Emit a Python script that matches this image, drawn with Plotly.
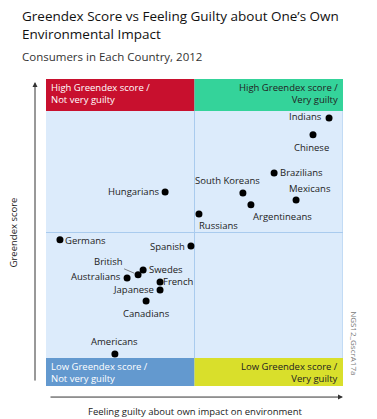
import plotly.graph_objects as go

countries = ["Indians", "Chinese", "Brazilians", "South Koreans", "Mexicans",
             "Argentineans", "Russians", "Hungarians", "Germans", "Spanish",
             "British", "Swedes", "Australians", "French", "Japanese",
             "Canadians", "Americans"]
guilt = [95.3, 89.9, 76.8, 66.3, 84.2, 69.0, 51.5, 40.1, 4.7, 48.8,
         31.0, 32.7, 27.3, 38.4, 38.4, 33.7, 23.2]
greendex = [87.3, 81.8, 69.4, 62.9, 60.6, 59.0, 56.0, 63.2, 47.6, 45.6,
            36.2, 37.8, 35.2, 33.9, 31.3, 27.7, 10.4]

# label placement: (xanchor, yanchor, xshift, yshift)
label_pos = {
    "Indians": ("right", "middle", -5, 1),
    "Chinese": ("center", "top", -2, -4),
    "Brazilians": ("left", "middle", 4, 0),
    "South Koreans": ("center", "bottom", -15, 4),
    "Mexicans": ("center", "bottom", 14, 3),
    "Argentineans": ("left", "top", 0, -3),
    "Russians": ("left", "top", -2, -3),
    "Hungarians": ("right", "middle", -4, 0),
    "Germans": ("left", "middle", 3, -1),
    "Spanish": ("right", "middle", -4, 0),
    "Swedes": ("left", "middle", 4, 0),
    "Australians": ("right", "middle", -4, 1),
    "French": ("left", "middle", 1, 0),
    "Japanese": ("right", "middle", -4, 0),
    "Canadians": ("center", "top", 0, -4),
    "Americans": ("center", "bottom", 0, 4),
}

bg = "#dcebfb"
grid = "#a9cbee"
font_fam = "Open Sans"
lbl_size = 9.5

fig = go.Figure()
fig.add_trace(go.Scatter(x=guilt, y=greendex, mode="markers",
                         marker=dict(color="black", size=7),
                         hoverinfo="text", text=countries, showlegend=False))

shapes = [
    dict(type="rect", xref="x", yref="y", x0=0, x1=50, y0=89.6, y1=100,
         fillcolor="#c8102e", line=dict(width=0), layer="below"),
    dict(type="rect", xref="x", yref="y", x0=50, x1=100, y0=89.6, y1=100,
         fillcolor="#34d39a", line=dict(width=0), layer="below"),
    dict(type="rect", xref="x", yref="y", x0=0, x1=50, y0=0, y1=9.1,
         fillcolor="#6399cf", line=dict(width=0), layer="below"),
    dict(type="rect", xref="x", yref="y", x0=50, x1=100, y0=0, y1=9.1,
         fillcolor="#d9df2b", line=dict(width=0), layer="below"),
    dict(type="line", xref="x", yref="y", x0=50, x1=50, y0=9.1, y1=89.6,
         line=dict(color=grid, width=1), layer="below"),
    dict(type="line", xref="x", yref="y", x0=0, x1=100, y0=50, y1=50,
         line=dict(color=grid, width=1), layer="below"),
    dict(type="line", xref="x", yref="y", x0=100, x1=100, y0=9.1, y1=89.6,
         line=dict(color=grid, width=1), layer="below"),
]

ann = []
for c, xv, yv in zip(countries, guilt, greendex):
    if c in label_pos:
        xa, ya, xs, ys = label_pos[c]
        ann.append(dict(x=xv, y=yv, xref="x", yref="y", text=c, showarrow=False,
                        xanchor=xa, yanchor=ya, xshift=xs, yshift=ys,
                        font=dict(family=font_fam, size=lbl_size, color="#222")))
# British with leader line
bi = countries.index("British")
ann.append(dict(x=guilt[bi], y=greendex[bi], xref="x", yref="y", text="British",
                showarrow=True, arrowhead=0, arrowwidth=0.7, arrowcolor="#555",
                ax=-30, ay=-13, standoff=4,
                font=dict(family=font_fam, size=lbl_size, color="#222")))

# quadrant labels
qfont_w = dict(family=font_fam, size=9.5, color="white")
qfont_d = dict(family=font_fam, size=9.5, color="#222")
ann += [
    dict(x=0, y=100, xref="x", yref="y", text="High Greendex score /<br>Not very guilty",
         showarrow=False, xanchor="left", yanchor="top", align="left", xshift=3, yshift=0,
         font=qfont_w),
    dict(x=100, y=100, xref="x", yref="y", text="High Greendex score /<br>Very guilty",
         showarrow=False, xanchor="right", yanchor="top", align="right", xshift=-3,
         font=qfont_d),
    dict(x=0, y=9.1, xref="x", yref="y", text="Low Greendex score /<br>Not very guilty",
         showarrow=False, xanchor="left", yanchor="top", align="left", xshift=3,
         font=qfont_w),
    dict(x=100, y=9.1, xref="x", yref="y", text="Low Greendex score /<br>Very guilty",
         showarrow=False, xanchor="right", yanchor="top", align="right", xshift=-3,
         font=qfont_d),
]

# titles
ann += [
    dict(x=-0.0875, y=1.24, xref="paper", yref="paper",
         text="Greendex Score vs Feeling Guilty about One\u2019s Own<br>Environmental Impact",
         showarrow=False, xanchor="left", yanchor="top", align="left",
         font=dict(family=font_fam, size=13.5, color="#111")),
    dict(x=-0.0875, y=1.105, xref="paper", yref="paper",
         text="Consumers in Each Country, 2012",
         showarrow=False, xanchor="left", yanchor="top", align="left",
         font=dict(family=font_fam, size=11.5, color="#333")),
    dict(x=0.5, y=-0.055, xref="paper", yref="paper",
         text="Feeling guilty about own impact on environment",
         showarrow=False, xanchor="center", yanchor="top",
         font=dict(family=font_fam, size=9.5, color="#222")),
    dict(x=-0.108, y=0.5, xref="paper", yref="paper",
         text="Greendex score", textangle=-90,
         showarrow=False, xanchor="center", yanchor="middle",
         font=dict(family=font_fam, size=9.5, color="#222")),
    dict(x=1.04, y=0.14, xref="paper", yref="paper",
         text="NGS12_GscrA17a", textangle=90,
         showarrow=False, xanchor="center", yanchor="middle",
         font=dict(family=font_fam, size=8, color="#777")),
    # axis arrows
    dict(x=-0.037, y=0.99, xref="paper", yref="paper", text="", showarrow=True,
         arrowhead=2, arrowsize=1, arrowwidth=1, arrowcolor="#333", ax=0, ay=300),
    dict(x=1.0, y=-0.036, xref="paper", yref="paper", text="", showarrow=True,
         arrowhead=2, arrowsize=1, arrowwidth=1, arrowcolor="#333", ax=-294, ay=0),
]

fig.update_layout(
    width=369, height=411,
    margin=dict(l=38, r=34, t=71, b=33),
    paper_bgcolor="white", plot_bgcolor=bg,
    xaxis=dict(range=[0, 100], visible=False, fixedrange=True),
    yaxis=dict(range=[0, 100], visible=False, fixedrange=True),
    shapes=shapes, annotations=ann, showlegend=False,
)
fig.write_html("out.html")
